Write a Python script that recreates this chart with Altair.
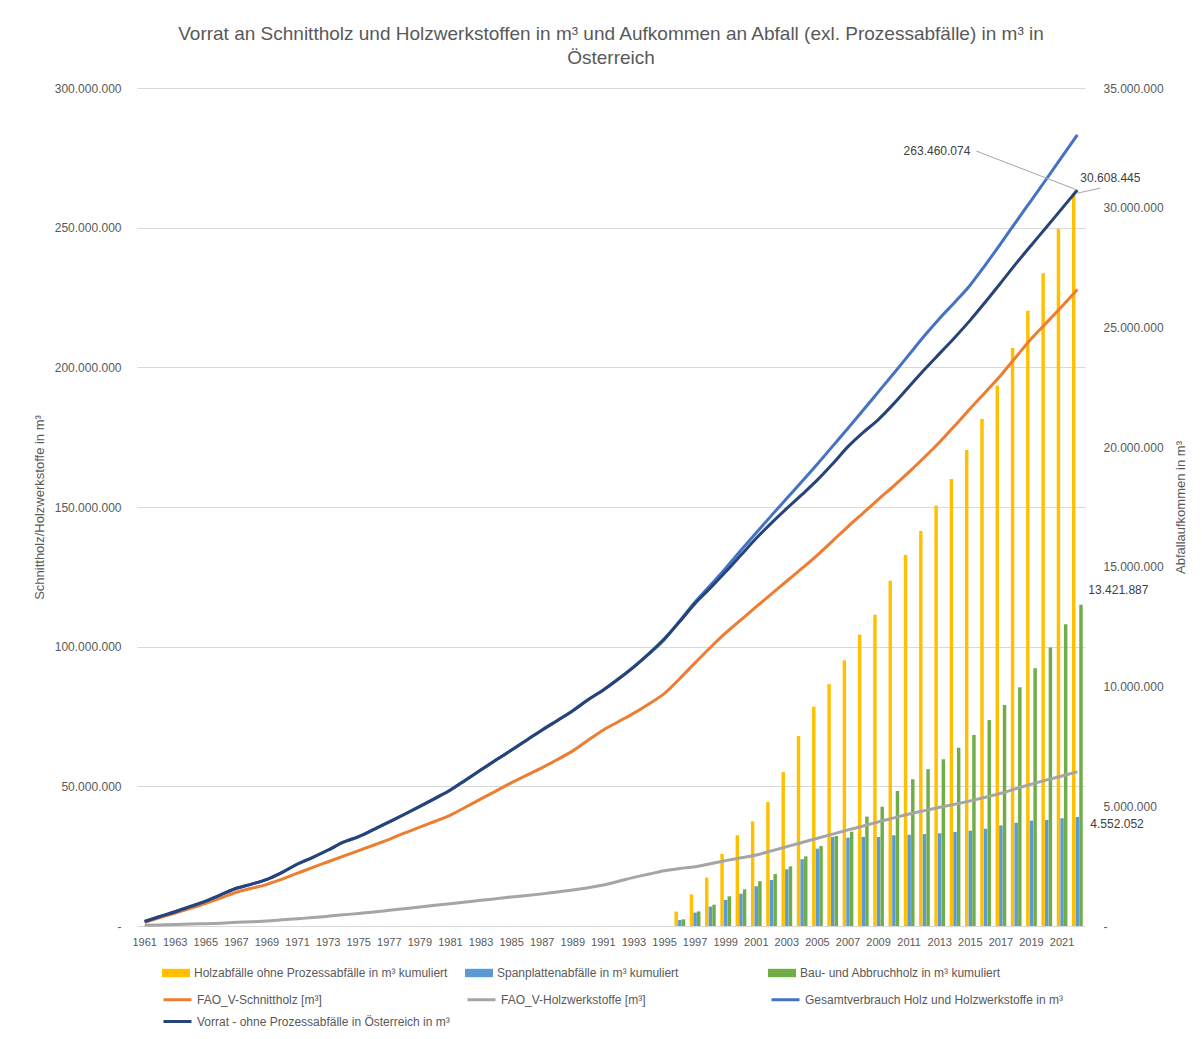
import altair as alt
import pandas as pd

# ---------------- data ----------------
years = list(range(1961, 2023))
label_years = list(range(1961, 2022, 2))

# line series, in Mio. m³ (left axis)
schnittholz_mio = [
    1.3, 3.0, 4.6, 6.3, 8.1, 10.1, 12.1, 13.5, 14.9, 16.8,
    18.9, 21.0, 23.0, 25.0, 27.0, 29.0, 31.0, 33.3, 35.4, 37.5,
    39.7, 42.6, 45.5, 48.4, 51.3, 54.0, 56.7, 59.6, 62.7, 66.5,
    70.2, 73.2, 76.2, 79.6, 83.3, 88.6, 94.2, 99.7, 104.9, 109.6,
    114.3, 118.9, 123.5, 128.1, 132.8, 137.9, 143.0, 147.9, 152.8, 157.6,
    162.6, 167.8, 173.3, 179.2, 185.3, 191.2, 197.2, 203.8, 210.3, 216.1,
    221.9, 227.9,
]
holzwerkstoffe_mio = [
    0.3, 0.4, 0.5, 0.7, 0.8, 1.0, 1.3, 1.5, 1.8, 2.2,
    2.6, 3.0, 3.5, 4.0, 4.5, 5.0, 5.6, 6.2, 6.8, 7.4,
    8.0, 8.6, 9.2, 9.8, 10.4, 10.9, 11.5, 12.2, 12.9, 13.7,
    14.7, 16.0, 17.4, 18.6, 19.8, 20.6, 21.2, 22.3, 23.4, 24.4,
    25.4, 26.9, 28.4, 29.9, 31.4, 32.9, 34.4, 35.8, 37.3, 38.7,
    40.1, 41.3, 42.5, 43.6, 44.8, 46.1, 47.5, 49.2, 50.8, 52.3,
    53.7, 55.2,
]
gesamt_mio = [
    1.6, 3.4, 5.1, 7.0, 8.9, 11.2, 13.5, 15.0, 16.7, 19.2,
    22.2, 24.6, 27.2, 30.0, 32.0, 34.6, 37.3, 40.0, 42.8, 45.7,
    48.7, 52.3, 55.9, 59.5, 63.0, 66.6, 70.2, 73.6, 77.1, 81.0,
    84.5, 88.5, 92.8, 97.5, 102.6, 109.3, 116.0, 122.0, 128.1, 134.5,
    140.8, 147.0, 153.1, 159.2, 165.4, 171.8, 178.2, 184.7, 191.3, 197.9,
    204.6, 211.3, 217.6, 223.4, 229.5, 236.8, 244.4, 252.2, 259.9, 267.6,
    275.4, 283.2,
]
vorrat_mio = [
    1.6, 3.4, 5.1, 7.0, 8.9, 11.2, 13.5, 15.0, 16.7, 19.2,
    22.2, 24.6, 27.2, 30.0, 32.0, 34.6, 37.3, 40.0, 42.8, 45.7,
    48.7, 52.3, 55.9, 59.5, 63.0, 66.6, 70.2, 73.6, 77.1, 81.0,
    84.5, 88.5, 92.8, 97.6, 102.9, 109.0, 115.5, 121.0, 126.8, 132.8,
    138.8, 144.3, 149.5, 154.5, 159.7, 165.5, 171.6, 176.7, 181.4, 187.0,
    193.1, 199.2, 205.0, 210.8, 216.9, 223.5, 230.3, 237.2, 243.8, 250.3,
    256.9, 263.460074,
]

# bar series, in Mio. m³ (right axis)
bar_years = list(range(1996, 2023))
holzabfaelle_mio = [
    0.60, 1.32, 2.02, 3.01, 3.79, 4.37, 5.18, 6.43, 7.94, 9.16,
    10.10, 11.10, 12.16, 13.00, 14.42, 15.50, 16.50, 17.56, 18.67, 19.88,
    21.18, 22.56, 24.14, 25.70, 27.26, 29.11, 30.608445,
]
spanplatten_mio = [
    0.25, 0.56, 0.81, 1.09, 1.35, 1.66, 1.92, 2.37, 2.79, 3.23,
    3.72, 3.69, 3.72, 3.72, 3.79, 3.81, 3.84, 3.87, 3.93, 3.98,
    4.06, 4.20, 4.31, 4.40, 4.43, 4.50, 4.552052,
]
bau_mio = [
    0.28, 0.61, 0.89, 1.24, 1.53, 1.87, 2.17, 2.49, 2.91, 3.34,
    3.76, 3.94, 4.57, 4.98, 5.64, 6.13, 6.55, 6.96, 7.44, 7.98,
    8.60, 9.23, 9.97, 10.76, 11.63, 12.60, 13.421887,
]

line_series = [
    "FAO_V-Schnittholz [m³]",
    "FAO_V-Holzwerkstoffe [m³]",
    "Gesamtverbrauch Holz und Holzwerkstoffe in m³",
    "Vorrat - ohne Prozessabfälle in Österreich in m³",
]
line_colors = ["#ED7D31", "#A5A5A5", "#4472C4", "#264478"]
bar_series = [
    "Holzabfälle ohne Prozessabfälle in m³ kumuliert",
    "Spanplattenabfälle in m³ kumuliert",
    "Bau- und Abbruchholz in m³ kumuliert",
]
bar_colors = ["#FFC000", "#5B9BD5", "#70AD47"]

left_ticks = [0, 50e6, 100e6, 150e6, 200e6, 250e6, 300e6]
right_ticks = [0, 5e6, 10e6, 15e6, 20e6, 25e6, 30e6, 35e6]

# ---------------- tables ----------------
rows = []
for name, vals in zip(line_series, [schnittholz_mio, holzwerkstoffe_mio, gesamt_mio, vorrat_mio]):
    for y, v in zip(years, vals):
        rows.append({"Jahr": y, "Reihe": name, "Wert": round(v * 1e6)})
df_lines = pd.DataFrame(rows)

rows = []
for name, vals in zip(bar_series, [holzabfaelle_mio, spanplatten_mio, bau_mio]):
    for y, v in zip(bar_years, vals):
        rows.append({"Jahr": y, "Reihe": name, "Wert": round(v * 1e6)})
df_bars = pd.DataFrame(rows)

FONT = "Liberation Sans"
TXT = "#595959"

x_enc = alt.X(
    "Jahr:O",
    scale=alt.Scale(domain=years, paddingInner=0.3, paddingOuter=0.15),
    axis=alt.Axis(values=label_years, labelAngle=0, labelOverlap=False, domain=False,
                  ticks=False, title=None, labelFontSize=11, labelPadding=10),
)
zero_dash = "datum.value == 0 ? '-' : datum.label"

y_right = alt.Y(
    "Wert:Q",
    scale=alt.Scale(domain=[0, 35e6], nice=False),
    axis=alt.Axis(orient="right", values=right_ticks, format=",.0f", labelExpr=zero_dash,
                  grid=False, domain=False, ticks=False, labelPadding=18,
                  title="Abfallaufkommen in m³", titleAngle=270, titlePadding=24),
)
y_left = alt.Y(
    "Wert:Q",
    scale=alt.Scale(domain=[0, 300e6], nice=False),
    axis=alt.Axis(orient="left", values=left_ticks, format=",.0f", labelExpr=zero_dash,
                  grid=True, gridColor="#D9D9D9", domain=False, ticks=False, labelPadding=16,
                  title="Schnittholz/Holzwerkstoffe in m³", titlePadding=8),
)

bar_legend = alt.Legend(
    title=None, orient="none", legendX=25, legendY=871, direction="horizontal",
    columns=3, gridAlign="all", columnPadding=17,
    symbolType="M-1,-0.3H1V0.3H-1Z", symbolSize=784, symbolStrokeWidth=0,
    labelFontSize=12, labelLimit=400, labelOffset=4,
)
line_legend = alt.Legend(
    title=None, orient="none", legendX=25, legendY=896, direction="horizontal",
    columns=3, gridAlign="all", columnPadding=6, rowPadding=0,
    symbolType="stroke", symbolSize=784, symbolStrokeWidth=3,
    labelFontSize=12, labelLimit=400, labelOffset=4,
)

bars = alt.Chart(df_bars).mark_bar().encode(
    x=x_enc,
    xOffset=alt.XOffset("Reihe:N", sort=bar_series,
                        scale=alt.Scale(domain=bar_series, paddingInner=0.05)),
    y=y_right,
    fill=alt.Fill("Reihe:N", scale=alt.Scale(domain=bar_series, range=bar_colors),
                  legend=bar_legend),
)

last_bars = alt.Chart(df_bars).transform_filter(alt.datum.Jahr == 2022)
txt_style = dict(font=FONT, fontSize=12, color="#404040", baseline="middle")

t_holz = last_bars.transform_filter(alt.datum.Reihe == bar_series[0]).mark_text(
    align="left", dx=3, dy=-15, **txt_style
).encode(x=x_enc, y=y_right, text=alt.Text("Wert:Q", format=",.0f"))
r_holz = last_bars.transform_filter(alt.datum.Reihe == bar_series[0]).mark_rule(
    color="#A6A6A6", strokeWidth=1, x2Offset=23, y2Offset=-5
).encode(x=x_enc, y=y_right, x2=alt.X2("Jahr"), y2=alt.Y2("Wert"))
t_span = last_bars.transform_filter(alt.datum.Reihe == bar_series[1]).mark_text(
    align="left", dx=13, dy=7, **txt_style
).encode(x=x_enc, y=y_right, text=alt.Text("Wert:Q", format=",.0f"))
t_bau = last_bars.transform_filter(alt.datum.Reihe == bar_series[2]).mark_text(
    align="left", dx=11, dy=-15, **txt_style
).encode(x=x_enc, y=y_right, text=alt.Text("Wert:Q", format=",.0f"))

bar_group = alt.layer(bars, r_holz, t_holz, t_span, t_bau)


def line_layer(name):
    return alt.Chart(df_lines).transform_filter(alt.datum.Reihe == name).mark_line(
        strokeWidth=3, interpolate="monotone"
    ).encode(
        x=x_enc,
        y=y_left,
        stroke=alt.Stroke("Reihe:N", scale=alt.Scale(domain=line_series, range=line_colors),
                          legend=line_legend),
    )


last_vorrat = alt.Chart(df_lines).transform_filter(
    (alt.datum.Reihe == line_series[3]) & (alt.datum.Jahr == 2022)
)
r_vorrat = last_vorrat.mark_rule(
    color="#A6A6A6", strokeWidth=1, x2Offset=-101, y2Offset=-39
).encode(x=x_enc, y=y_left, x2=alt.X2("Jahr"), y2=alt.Y2("Wert"))
t_vorrat = last_vorrat.mark_text(align="right", dx=-107, dy=-39, **txt_style).encode(
    x=x_enc, y=y_left, text=alt.Text("Wert:Q", format=",.0f")
)

line_group = alt.layer(*[line_layer(n) for n in line_series], r_vorrat, t_vorrat)

chart = alt.layer(bar_group, line_group).resolve_scale(y="independent").properties(
    width=948,
    height=838,
    autosize=alt.AutoSizeParams(type="none"),
    padding={"left": 129, "top": 80, "right": 105, "bottom": 101},
    title=alt.Title(
        ["Vorrat an Schnittholz und Holzwerkstoffen in m³ und Aufkommen an Abfall (exl. Prozessabfälle) in m³ in",
         "Österreich"],
        fontSize=19, font=FONT, fontWeight="normal", color=TXT, anchor="middle",
        frame="group", offset=14, lineHeight=24,
    ),
).configure_view(stroke=None).configure_axis(
    labelFont=FONT, titleFont=FONT, labelColor=TXT, titleColor=TXT,
    labelFontSize=12, titleFontSize=13, titleFontWeight="normal",
).configure_legend(
    labelFont=FONT, labelColor=TXT,
)

chart.save(
    "out.html",
    embed_options={
        "renderer": "svg",
        "actions": False,
        "formatLocale": {"decimal": ",", "thousands": ".", "grouping": [3], "currency": ["", " €"]},
    },
)
